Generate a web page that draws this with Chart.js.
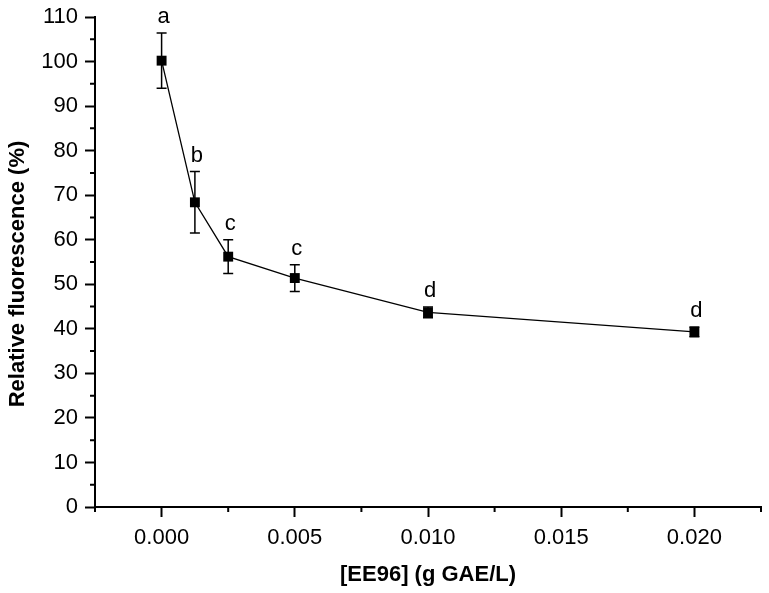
<!DOCTYPE html>
<html>
<head>
<meta charset="utf-8">
<script src="https://cdn.jsdelivr.net/npm/chart.js@4.4.1/dist/chart.umd.min.js"></script>
<style>
  html, body { margin: 0; padding: 0; background: #fff; }
  #wrap { width: 769px; height: 593px; }
</style>
</head>
<body>
<div id="wrap"><canvas id="graph-fluor"></canvas></div>
<script>
const concentrations = [0, 0.00125, 0.0025, 0.005, 0.01, 0.02];
const fluorescence = [100.2, 68.4, 56.2, 51.4, 43.7, 39.3];
const errors = [6.2, 6.9, 3.8, 3.0, 1.2, 1.1];
const groups = ["a", "b", "c", "c", "d", "d"];

const xMajor = [0, 0.005, 0.01, 0.015, 0.02];
const xLabels = ["0.000", "0.005", "0.010", "0.015", "0.020"];
const xMinor = [-0.0025, 0.0025, 0.0075, 0.0125, 0.0175, 0.0225];
const yMajor = [0, 10, 20, 30, 40, 50, 60, 70, 80, 90, 100, 110];
const yMinor = [5, 15, 25, 35, 45, 55, 65, 75, 85, 95, 105];

const xTitle = "[EE96] (g GAE/L)";
const yTitle = "Relative fluorescence (%)";

const FONT = "'Liberation Sans', Arial, sans-serif";

const extras = {
  id: "extras",
  afterDatasetsDraw(chart) {
    const { ctx, scales: { x, y } } = chart;
    ctx.save();
    ctx.strokeStyle = "#000";
    ctx.lineWidth = 1.5;
    concentrations.forEach((c, i) => {
      const px = x.getPixelForValue(c);
      const top = y.getPixelForValue(fluorescence[i] + errors[i]);
      const bot = y.getPixelForValue(fluorescence[i] - errors[i]);
      ctx.beginPath();
      ctx.moveTo(px, top);
      ctx.lineTo(px, bot);
      ctx.moveTo(px - 5, top);
      ctx.lineTo(px + 5, top);
      ctx.moveTo(px - 5, bot);
      ctx.lineTo(px + 5, bot);
      ctx.stroke();
    });
    ctx.fillStyle = "#000";
    ctx.font = "22px " + FONT;
    ctx.textAlign = "center";
    ctx.textBaseline = "alphabetic";
    concentrations.forEach((c, i) => {
      const px = x.getPixelForValue(c);
      const top = y.getPixelForValue(fluorescence[i] + errors[i]);
      ctx.fillText(groups[i], px + 2, top - 10);
    });
    ctx.restore();
  },
  afterDraw(chart) {
    const { ctx, chartArea, scales: { x, y } } = chart;
    ctx.save();
    ctx.strokeStyle = "#000";
    ctx.lineWidth = 2;
    ctx.beginPath();
    xMinor.forEach((v) => {
      const px = x.getPixelForValue(v);
      ctx.moveTo(px, chartArea.bottom);
      ctx.lineTo(px, chartArea.bottom + 5);
    });
    yMinor.forEach((v) => {
      const py = y.getPixelForValue(v);
      ctx.moveTo(chartArea.left, py);
      ctx.lineTo(chartArea.left - 5, py);
    });
    ctx.stroke();

    ctx.fillStyle = "#000";
    ctx.font = "bold 22px " + FONT;
    ctx.textAlign = "center";
    ctx.textBaseline = "middle";
    ctx.fillText(xTitle, (chartArea.left + chartArea.right) / 2, 575);
    ctx.translate(18, 274);
    ctx.rotate(-Math.PI / 2);
    ctx.fillText(yTitle, 0, 0);
    ctx.restore();
  },
};

new Chart(document.getElementById("graph-fluor"), {
  type: "line",
  data: {
    datasets: [
      {
        data: concentrations.map((c, i) => ({ x: c, y: fluorescence[i] })),
        borderColor: "#000",
        borderWidth: 1.3,
        backgroundColor: "#000",
        pointStyle: "rect",
        pointRadius: 7,
        pointBorderWidth: 0,
        tension: 0,
        fill: false,
      },
    ],
  },
  options: {
    responsive: true,
    maintainAspectRatio: false,
    animation: false,
    layout: { padding: { top: 17, right: 8, left: 0, bottom: 0 } },
    plugins: {
      legend: { display: false },
      tooltip: { enabled: false },
    },
    scales: {
      x: {
        type: "linear",
        min: -0.0025,
        max: 0.0225,
        afterBuildTicks: (scale) => {
          scale.ticks = xMajor.map((v) => ({ value: v }));
        },
        afterFit: (scale) => {
          scale.height = 86;
          scale.paddingLeft = 0;
          scale.paddingRight = 0;
        },
        ticks: {
          autoSkip: false,
          maxRotation: 0,
          padding: 8,
          color: "#000",
          font: { family: FONT, size: 22 },
          callback: (v) => {
            const i = xMajor.findIndex((m) => Math.abs(m - v) < 1e-9);
            return i >= 0 ? xLabels[i] : "";
          },
        },
        grid: {
          drawOnChartArea: false,
          tickLength: 10,
          tickColor: "#000",
          tickWidth: 2,
        },
        border: { display: true, color: "#000", width: 2 },
      },
      y: {
        min: 0,
        max: 110,
        afterBuildTicks: (scale) => {
          scale.ticks = yMajor.map((v) => ({ value: v }));
        },
        afterFit: (scale) => {
          scale.width = 95;
          scale.paddingTop = 0;
          scale.paddingBottom = 0;
        },
        ticks: {
          autoSkip: false,
          padding: 7,
          color: "#000",
          font: { family: FONT, size: 22 },
        },
        grid: {
          drawOnChartArea: false,
          tickLength: 10,
          tickColor: "#000",
          tickWidth: 2,
        },
        border: { display: true, color: "#000", width: 2 },
      },
    },
  },
  plugins: [extras],
});
</script>
</body>
</html>
